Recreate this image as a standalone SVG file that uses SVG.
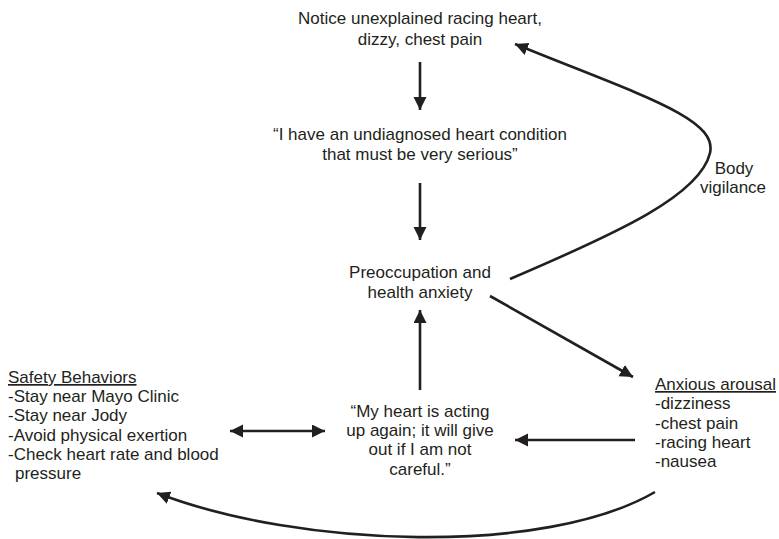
<svg xmlns="http://www.w3.org/2000/svg" width="779" height="539" viewBox="0 0 779 539">
<style>
text{font-family:"Liberation Sans",Arial,sans-serif;font-size:17px;fill:#231f20}
.c{text-anchor:middle}
.u{text-decoration:underline}
.e{fill:none;stroke:#231f20;stroke-width:2.6}
</style>
<defs>
<marker id="ah" markerUnits="userSpaceOnUse" markerWidth="14" markerHeight="14" refX="13" refY="6.5" orient="auto-start-reverse" viewBox="0 0 14 14">
<path d="M0,0 L13,6.5 L0,13 z" fill="#231f20"/>
</marker>
</defs>
<rect width="779" height="539" fill="#fff"/>
<g id="n1"><text class="c" x="420" y="24">Notice unexplained racing heart,</text><text class="c" x="420" y="45">dizzy, chest pain</text></g>
<g id="n2"><text class="c" x="420" y="140">“I have an undiagnosed heart condition</text><text class="c" x="420" y="160">that must be very serious”</text></g>
<g id="n3"><text class="c" x="420" y="278">Preoccupation and</text><text class="c" x="420" y="298">health anxiety</text></g>
<g id="n4"><text class="c" x="420" y="417">“My heart is acting</text><text class="c" x="420" y="436">up again; it will give</text><text class="c" x="420" y="455">out if I am not</text><text class="c" x="420" y="475">careful.”</text></g>
<g id="n5"><text class="u" x="8" y="383">Safety Behaviors</text><text x="8" y="402">-Stay near Mayo Clinic</text><text x="8" y="421">-Stay near Jody</text><text x="8" y="441">-Avoid physical exertion</text><text x="8" y="460">-Check heart rate and blood</text><text x="15" y="479">pressure</text></g>
<g id="n6"><text class="u" x="655" y="390">Anxious arousal</text><text x="655" y="409">-dizziness</text><text x="655" y="429">-chest pain</text><text x="655" y="448">-racing heart</text><text x="655" y="467">-nausea</text></g>
<g id="edges">
<path class="e" d="M420,62 L420,110" marker-end="url(#ah)"/>
<path class="e" d="M420,183 L420,240" marker-end="url(#ah)"/>
<path class="e" d="M420,390 L420,310" marker-end="url(#ah)"/>
<path class="e" d="M490,296 L633,377" marker-end="url(#ah)"/>
<path class="e" d="M635,440 L515,440" marker-end="url(#ah)"/>
<path class="e" d="M230,431 L325,431" marker-start="url(#ah)" marker-end="url(#ah)"/>
<path class="e" d="M510,279 C620,232 700,195 710,153 C718,118 640,95 515,44" marker-end="url(#ah)"/>
<path class="e" d="M655,492 C545,556 300,548 157,493" marker-end="url(#ah)"/>
<text class="c" x="734" y="174">Body</text><text class="c" x="733" y="193">vigilance</text>
</g>
</svg>
